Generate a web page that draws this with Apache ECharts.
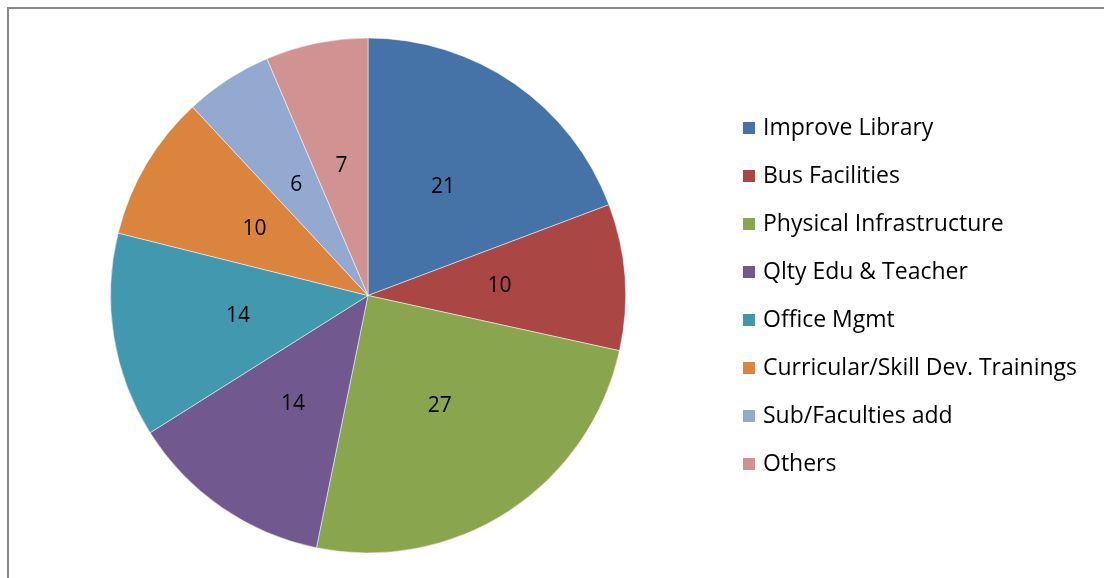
<!DOCTYPE html>
<html><head><meta charset="utf-8">
<script src="https://cdn.jsdelivr.net/npm/echarts@6/dist/echarts.min.js"></script>
<style>html,body{margin:0;padding:0;background:#fff}#c{width:1104px;height:578px}</style>
</head><body><div id="c"></div>
<script>
const categories = ["Improve Library","Bus Facilities","Physical Infrastructure","Qlty Edu & Teacher","Office Mgmt","Curricular/Skill Dev. Trainings","Sub/Faculties add","Others"];
const values = [21,10,27,14,14,10,6,7];
const colors = ["#4572A7","#AA4643","#89A54E","#71588F","#4198AF","#DB843D","#93A9CF","#D19392"];

const chart = echarts.init(document.getElementById('c'), null, {renderer:'canvas'});
chart.setOption({
  animation:false,
  color: colors,
  graphic:[{type:'rect', shape:{x:8,y:8,width:1120,height:620}, style:{fill:'none',stroke:'#888',lineWidth:2}, silent:true}],
  legend:{
    orient:'vertical', left:741, top:116, padding:0, itemWidth:14, itemHeight:14, itemGap:24,
    icon:'rect',
    textStyle:{fontFamily:'Open Sans', fontSize:23, lineHeight:24, color:'#000', padding:[0,0,0,2]},
    data: categories
  },
  series:[{
    type:'pie', center:[368,295.5], radius:[0,257.5], startAngle:90, clockwise:true,
    label:{show:true, position:'inner', formatter:'{c}', fontFamily:'Open Sans', fontSize:21, color:'#000'},
    labelLine:{show:false},
    itemStyle:{borderColor:'#fff', borderWidth:0.5},
    emphasis:{disabled:true},
    data: categories.map((n,i)=>({name:n, value:values[i]}))
  }]
});
</script></body></html>
